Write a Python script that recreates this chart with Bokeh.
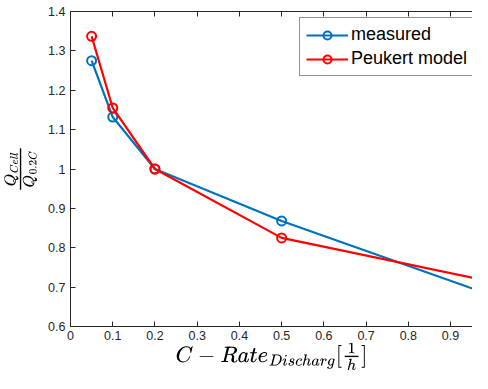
from bokeh.plotting import figure
from bokeh.models import (Range1d, LinearAxis, FixedTicker, Legend, LegendItem,
                          CustomJSTickFormatter)
from bokeh.embed import file_html
from bokeh.resources import INLINE

c_rate = [0.05, 0.1, 0.2, 0.5, 1.0]
measured = [1.275, 1.132, 1.0, 0.868, 0.678]
peukert = [1.337, 1.155, 1.0, 0.825, 0.713]
x_ticks = [0, 0.1, 0.2, 0.3, 0.4, 0.5, 0.6, 0.7, 0.8, 0.9]
y_ticks = [0.6, 0.7, 0.8, 0.9, 1.0, 1.1, 1.2, 1.3, 1.4]

BLUE = "#0072BD"
RED = "#FF0000"
TXT = "#262626"

p = figure(width=472, height=373, output_backend="svg", toolbar_location=None,
           x_range=Range1d(0, 0.952), y_range=Range1d(0.6, 1.4),
           min_border_left=70, min_border_right=0, min_border_top=11, min_border_bottom=44)
p.outline_line_color = None
p.grid.visible = False
p.background_fill_color = "white"
p.border_fill_color = "white"

for ax in (p.xaxis[0], p.yaxis[0]):
    ax.major_tick_in = 5
    ax.major_tick_out = 0
    ax.minor_tick_line_color = None
    ax.axis_line_color = TXT
    ax.major_tick_line_color = TXT
    ax.major_label_text_color = TXT
    ax.major_label_text_font = "Liberation Sans"
    ax.major_label_text_font_size = "12.5px"
    ax.axis_label_text_color = "black"
    ax.axis_label_text_font_style = "normal"

p.xaxis.ticker = FixedTicker(ticks=x_ticks)
p.yaxis.ticker = FixedTicker(ticks=y_ticks)
p.xaxis.major_label_overrides = {0: "0"}
p.yaxis.major_label_overrides = {1.0: "1"}
p.xaxis.major_label_standoff = 4
p.yaxis.major_label_standoff = 5

p.xaxis.axis_label = r"\(C - Rate_{Discharg}[\frac{1}{h}]\)"
p.xaxis.axis_label_text_font_size = "18.5px"
p.xaxis.axis_label_standoff = 0
p.yaxis.axis_label = r"\(\frac{Q_{Cell}}{Q_{0.2C}}\)"
p.yaxis.axis_label_text_font_size = "17.5px"
p.yaxis.axis_label_standoff = 8

top = LinearAxis(ticker=FixedTicker(ticks=x_ticks),
                 formatter=CustomJSTickFormatter(code="return ''"),
                 major_tick_in=5, major_tick_out=0, minor_tick_line_color=None,
                 major_label_standoff=0,
                 axis_line_color=TXT, major_tick_line_color=TXT)
p.add_layout(top, "above")

r1 = p.line(c_rate, measured, line_color=BLUE, line_width=2.2)
m1 = p.scatter(c_rate, measured, marker="circle", size=9, line_color=BLUE, line_width=2, fill_color=None)
r2 = p.line(c_rate, peukert, line_color=RED, line_width=2.2)
m2 = p.scatter(c_rate, peukert, marker="circle", size=9, line_color=RED, line_width=2, fill_color=None)

legend = Legend(items=[LegendItem(label="measured", renderers=[r1, m1]),
                       LegendItem(label="Peukert model", renderers=[r2, m2])],
                location=(229, 250))
legend.label_text_font = "Liberation Sans"
legend.label_text_font_size = "18px"
legend.label_text_color = "black"
legend.glyph_width = 42
legend.glyph_height = 20
legend.label_height = 20
legend.spacing = 3
legend.padding = 6
legend.margin = 0
legend.border_line_color = TXT
legend.border_line_width = 1
legend.label_standoff = 3
p.add_layout(legend, "center")

open("out.html", "w").write(file_html(p, INLINE))
